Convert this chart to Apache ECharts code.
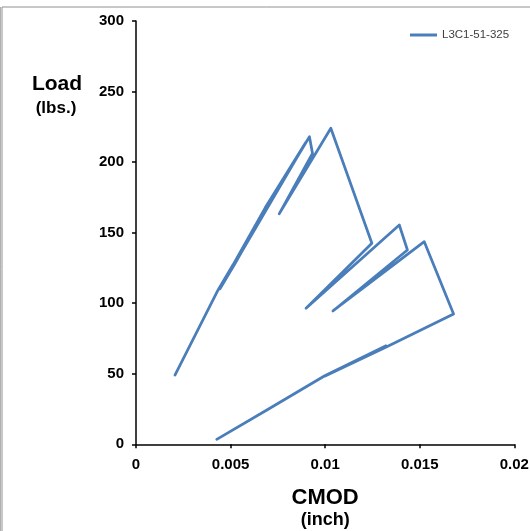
<!DOCTYPE html>
<html>
<head>
<meta charset="utf-8">
<script src="https://cdn.jsdelivr.net/npm/echarts@6/dist/echarts.min.js"></script>
<style>
html,body{margin:0;padding:0;background:#fff;overflow:hidden;}
#chart{width:530px;height:531px;overflow:hidden;}
</style>
</head>
<body>
<div id="chart"></div>
<script>
// CMOD (inch) and Load (lbs.), in drawing order
var seriesName = 'L3C1-51-325';
var cmod = [0.00206, 0.00434, 0.00513, 0.00683, 0.00898, 0.00444, 0.00522, 0.00692, 0.00917, 0.00933, 0.00757, 0.0103, 0.01247, 0.00899, 0.01392, 0.01435, 0.01041, 0.01524, 0.01679, 0.01326, 0.0100, 0.01322, 0.00998, 0.00692, 0.00427];
var load = [49.1, 109.4, 127.2, 167.6, 214.0, 110.2, 127.8, 168.0, 218.0, 206.2, 163.3, 224.0, 142.5, 96.4, 155.4, 137.7, 94.5, 143.6, 92.3, 69.2, 48.4, 69.8, 48.6, 24.3, 3.5];

var points = cmod.map(function (x, i) { return [x, load[i]]; });

var chart = echarts.init(document.getElementById('chart'), null, {renderer: 'canvas', width: 530, height: 531});
var labelFont = {color: '#000', fontFamily: 'Liberation Sans, Arial, sans-serif', fontWeight: 'bold', fontSize: 15};
chart.setOption({
  animation: false,
  backgroundColor: '#fff',
  grid: {left: 136, top: 21, right: 15.7, bottom: 86.7, containLabel: false, outerBoundsMode: 'none'},
  legend: {
    data: [{name: seriesName, icon: 'rect'}],
    left: 405, top: 24,
    itemWidth: 27, itemHeight: 3,
    textStyle: {color: '#404040', fontSize: 11.5, fontFamily: 'Liberation Sans, Arial, sans-serif'}
  },
  xAxis: {
    type: 'value', min: 0, max: 0.02, interval: 0.005,
    axisLine: {show: true, lineStyle: {color: '#000', width: 1.5}},
    axisTick: {show: true, inside: false, length: 4, lineStyle: {color: '#000', width: 1.5}},
    axisLabel: Object.assign({margin: 13}, labelFont),
    splitLine: {show: false},
    name: '{a|CMOD}\n{b|(inch)}',
    nameLocation: 'middle',
    nameGap: 42,
    nameTextStyle: {
      rich: {
        a: {fontSize: 22, fontWeight: 'bold', color: '#000', fontFamily: 'Liberation Sans, Arial, sans-serif', lineHeight: 24},
        b: {fontSize: 18, fontWeight: 'bold', color: '#000', fontFamily: 'Liberation Sans, Arial, sans-serif', lineHeight: 20}
      }
    }
  },
  yAxis: {
    type: 'value', min: 0, max: 300, interval: 50,
    axisLine: {show: true, lineStyle: {color: '#000', width: 1.5}},
    axisTick: {show: true, inside: false, length: 4, lineStyle: {color: '#000', width: 1.5}},
    axisLabel: Object.assign({margin: 12}, labelFont),
    splitLine: {show: false}
  },
  graphic: [
    {type: 'rect', silent: true, x: 2, y: 7,
     shape: {x: 0, y: 0, width: 600, height: 600},
     style: {fill: 'none', stroke: '#909090', lineWidth: 1}},
    {type: 'line', silent: true, shape: {x1: 0.5, y1: 7, x2: 0.5, y2: 531},
     style: {stroke: '#b0b0b0', lineWidth: 1}},
    {type: 'text', silent: true, x: 57, y: 74,
     style: {text: 'Load', fill: '#000', font: 'bold 21px "Liberation Sans", Arial, sans-serif', textAlign: 'center', textVerticalAlign: 'top'}},
    {type: 'text', silent: true, x: 56, y: 100,
     style: {text: '(lbs.)', fill: '#000', font: 'bold 17px "Liberation Sans", Arial, sans-serif', textAlign: 'center', textVerticalAlign: 'top'}}
  ],
  series: [{
    name: seriesName,
    type: 'line',
    data: points,
    showSymbol: false,
    symbol: 'none',
    lineStyle: {color: '#4A7EBB', width: 2.75, join: 'round', cap: 'round'},
    itemStyle: {color: '#4A7EBB'}
  }]
});
</script>
</body>
</html>
